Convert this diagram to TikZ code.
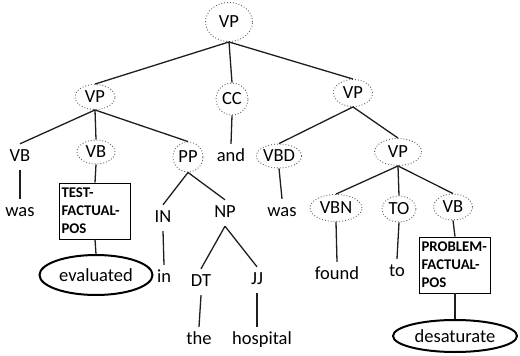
\documentclass[tikz,border=0pt]{standalone}
\usepackage{fontspec}
\setmainfont{Carlito}
\definecolor{treegray}{RGB}{95, 95, 95}
\definecolor{treeline}{RGB}{30, 30, 30}
\usetikzlibrary{shapes, shapes.geometric, positioning}

\begin{document}
\begin{tikzpicture}[x=1pt,y=-1pt,
		tag/.style={ellipse,draw=treegray,dotted,line width=0.9pt,inner sep=0pt,font=\fontsize{18.5}{20}\selectfont},
		word/.style={inner xsep=1pt,inner ysep=5pt,text height=12pt,text depth=4pt,font=\fontsize{18.5}{20}\selectfont},
		rolebox/.style={rectangle,draw=black,line width=0.8pt,inner xsep=1.5pt,inner ysep=0pt,minimum width=71pt,minimum height=56pt,text width=67pt,align=left,font=\fontsize{14.8}{18}\selectfont\bfseries},
		headword/.style={ellipse,draw=black,line width=2pt,inner sep=0pt,font=\fontsize{18.5}{20}\selectfont},
		edge/.style={draw=treeline,line width=1.3pt}]
	\useasboundingbox (0,0) rectangle (520,356);
	
	\node (vpTop) [tag,minimum width=47pt,minimum height=39pt] at (229,22) {VP};
	
	\node (vpA) [tag,minimum width=40pt,minimum height=25pt] at (95,97) {VP};
	\node (cc) [tag,minimum width=32pt,minimum height=32pt] at (232,99) {CC};
	\node (vpB) [tag,minimum width=39pt,minimum height=27pt] at (353,93) {VP};
	
	\node (vbA) [word] at (20,157) {VB};
	\node (vbB) [tag,minimum width=38pt,minimum height=24pt] at (96,152) {VB};
	\node (pp) [tag,minimum width=30pt,minimum height=30pt] at (188,157) {PP};
	\node (and) [word] at (231,157) {and};
	\node (vbd) [tag,minimum width=44pt,minimum height=24pt] at (279,156) {VBD};
	\node (vpC) [tag,minimum width=47pt,minimum height=27pt] at (398,152) {VP};
	
	\node (wasA) [word] at (20,212) {was};
	\node (testPos) [rolebox] at (95,211) {TEST-\\FACTUAL-\\POS};
	\node (evaluated) [headword,minimum width=113pt,minimum height=40pt] at (96,275) {evaluated};
	\node (in) [word] at (163,218) {IN};
	\node (np) [word] at (225,213) {NP};
	\node (inW) [word] at (164,278) {in};
	\node (dt) [word] at (201,282) {DT};
	\node (jj) [word] at (257,280) {JJ};
	\node (the) [word] at (199,340) {the};
	\node (hospital) [word] at (262,340) {hospital};
	
	\node (wasB) [word] at (282,212) {was};
	\node (vbn) [tag,minimum width=52pt,minimum height=27pt] at (336,208) {VBN};
	\node (to) [tag,minimum width=34pt,minimum height=26pt] at (399,209) {TO};
	\node (vbC) [tag,minimum width=39pt,minimum height=26pt] at (453,207) {VB};
	\node (found) [word] at (337,275) {found};
	\node (toW) [word] at (397,272) {to};
	\node (problemPos) [rolebox] at (455,265) {PROBLEM-\\FACTUAL-\\POS};
	\node (desaturate) [headword,minimum width=124pt,minimum height=32pt] at (455,336) {desaturate};
	
	% upper levels
	\draw[edge] (vpTop.south) -- (vpA.north);
	\draw[edge] (vpTop.south) -- (cc.north);
	\draw[edge] (vpTop.south) -- (vpB.north);
	\draw[edge] (vpA.south) -- (vbA.north);
	\draw[edge] (vpA.south) -- (vbB.north);
	\draw[edge] (vpA.south) -- (pp.north);
	\draw[edge] (cc.south) -- (and.north);
	\draw[edge] (vpB.south) -- (vbd.north);
	\draw[edge] (vpB.south) -- (vpC.north);
	
	% left branch
	\draw[edge] (vbA.south) -- (wasA.north);
	\draw[edge] (vbB.south) -- (testPos.north);
	\draw[edge] (testPos.south) -- (evaluated.north);
	\draw[edge] (pp.south) -- (in.north);
	\draw[edge] (pp.south) -- (np.north);
	\draw[edge] (in.south) -- (inW.north);
	\draw[edge] (np.south) -- (dt.north);
	\draw[edge] (np.south) -- (jj.north);
	\draw[edge] (dt.south) -- (the.north);
	\draw[edge] (jj.south) -- (jj.south |- hospital.north);
	
	% right branch
	\draw[edge] (vbd.south) -- (wasB.north);
	\draw[edge] (vpC.south) -- (vbn.north);
	\draw[edge] (vpC.south) -- (to.north);
	\draw[edge] (vpC.south) -- (vbC.north);
	\draw[edge] (vbn.south) -- (found.north);
	\draw[edge] (to.south) -- (toW.north);
	\draw[edge] (vbC.south) -- (problemPos.north);
	\draw[edge] (problemPos.south) -- (desaturate.north);
\end{tikzpicture}
\end{document}
